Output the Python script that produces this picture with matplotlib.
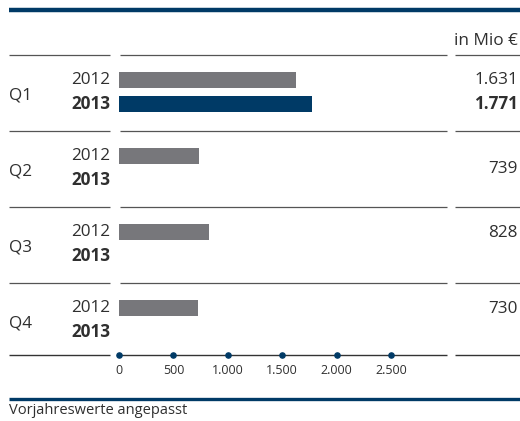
import matplotlib.pyplot as plt

plt.rcParams['font.family'] = ['Open Sans', 'DejaVu Sans']

quarters = ['Q1', 'Q2', 'Q3', 'Q4']
years = ['2012', '2013']
values_2012 = [1631, 739, 828, 730]
values_2013 = [1771, None, None, None]
value_labels = ['1.631', '739', '828', '730']
value_labels_2013 = ['1.771', None, None, None]
ticks = [0, 500, 1000, 1500, 2000, 2500]
tick_labels = ['0', '500', '1.000', '1.500', '2.000', '2.500']
unit = 'in Mio €'
note = 'Vorjahreswerte angepasst'

BLUE = '#003a66'
GRAY = '#77777b'
TEXT = '#2f2f2f'
RULE = '#555555'

W, H = 520, 421
fig = plt.figure(figsize=(W / 100, H / 100), dpi=100)

# frame axes in pixel units for rules and labels
ax = fig.add_axes([0, 0, 1, 1])
ax.set_xlim(0, W)
ax.set_ylim(H, 0)
ax.axis('off')

# bar axes: x=0 sits at 119 px, 0.1088 px per unit
x0, x1 = 119, 447
scale = 0.1088
bx = fig.add_axes([x0 / W, 0, (x1 - x0) / W, 1])
bx.set_xlim(0, (x1 - x0) / scale)
bx.set_ylim(H, 0)
bx.axis('off')

FS = 12.3

# top band and bottom rule
ax.plot([9, W], [10, 10], color=BLUE, lw=3.2, solid_capstyle='butt')
ax.plot([9, W], [399, 399], color=BLUE, lw=2.4, solid_capstyle='butt')

ax.text(518, 41, unit, ha='right', va='center', fontsize=FS, color=TEXT)


def rule(y, color=RULE, lw=0.9):
    for a, b in [(9, 110), (120, 447), (455, W)]:
        ax.plot([a, b], [y, y], color=color, lw=lw, solid_capstyle='butt')


top = 55
pitch = 76
rule(top)
for i, q in enumerate(quarters):
    y0 = top + i * pitch
    y12 = y0 + 25
    y13 = y0 + 49
    if i > 0:
        rule(y0)
    ax.text(9, y0 + 41, q, ha='left', va='center', fontsize=FS, color=TEXT)
    ax.text(110, y12, years[0], ha='right', va='center', fontsize=FS, color=TEXT)
    ax.text(110, y13, years[1], ha='right', va='center', fontsize=FS,
            color=TEXT, fontweight='bold')
    bx.barh(y12, values_2012[i], height=16, color=GRAY)
    if values_2013[i] is not None:
        bx.barh(y13, values_2013[i], height=16, color=BLUE)
        ax.text(518, y12, value_labels[i], ha='right', va='center',
                fontsize=FS, color=TEXT)
        ax.text(518, y13, value_labels_2013[i], ha='right', va='center',
                fontsize=FS, color=TEXT, fontweight='bold')
    else:
        vy = y12 + 13 if i == 1 else y12 + 1
        ax.text(518, vy, value_labels[i], ha='right', va='center',
                fontsize=FS, color=TEXT)

# value axis
axis_y = 355
rule(axis_y, color='#333333', lw=1.0)
bx.scatter(ticks, [axis_y] * len(ticks), s=14, color=BLUE, zorder=3,
           clip_on=False)
for t, lab in zip(ticks, tick_labels):
    bx.text(t, axis_y + 16, lab, ha='center', va='center', fontsize=9,
            color=TEXT)

ax.text(9, 411, note, ha='left', va='center', fontsize=10.5, color=TEXT)

fig.savefig('out.png', dpi=100)
